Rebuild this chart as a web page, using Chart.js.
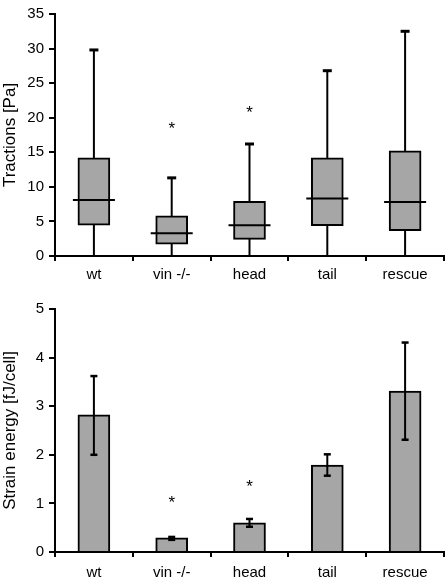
<!DOCTYPE html>
<html>
<head>
<meta charset="utf-8">
<script src="https://cdn.jsdelivr.net/npm/chart.js@4.4.0/dist/chart.umd.min.js"></script>
<style>
  html, body { margin: 0; padding: 0; background: #fff; }
  canvas { display: block; }
</style>
</head>
<body>
<canvas id="tractions" width="448" height="290"></canvas>
<canvas id="energy" width="448" height="288"></canvas>
<script>
// groups on the x axis
const groups = ['wt', 'vin -/-', 'head', 'tail', 'rescue'];

// tractions [Pa], box plot parts
const whiskerLow = [0, 0, 0, 0, 0];
const quart1 = [4.45, 1.7, 2.4, 4.4, 3.65];
const medians = [8.1, 3.3, 4.45, 8.3, 7.8];
const quart3 = [14.2, 5.8, 7.9, 14.2, 15.2];
const whiskerHigh = [29.8, 11.3, 16.2, 26.8, 32.5];
const tractionStars = [null, 18.7, 21.1, null, null];

// strain energy [fJ/cell], mean with error range
const energyMean = [2.82, 0.29, 0.6, 1.79, 3.31];
const energyLow = [2.0, 0.25, 0.52, 1.57, 2.31];
const energyHigh = [3.62, 0.31, 0.68, 2.01, 4.31];
const energyStars = [null, 1.06, 1.4, null, null];

const ink = '#000';
const fill = '#a6a6a6';
const fontFamily = '"Liberation Sans", Arial, sans-serif';

function hLine(ctx, x0, x1, y, w) {
  ctx.beginPath();
  ctx.lineWidth = w;
  ctx.moveTo(x0, y);
  ctx.lineTo(x1, y);
  ctx.stroke();
}

function vLine(ctx, x, y0, y1, w) {
  ctx.beginPath();
  ctx.lineWidth = w;
  ctx.moveTo(x, y0);
  ctx.lineTo(x, y1);
  ctx.stroke();
}

function drawStars(chart, stars) {
  const { ctx, scales } = chart;
  ctx.save();
  ctx.fillStyle = ink;
  ctx.font = '17px ' + fontFamily;
  ctx.textAlign = 'center';
  ctx.textBaseline = 'middle';
  stars.forEach((v, i) => {
    if (v == null) return;
    ctx.fillText('*', scales.x.getPixelForValue(i), scales.y.getPixelForValue(v) + 3);
  });
  ctx.restore();
}

const boxParts = {
  id: 'boxParts',
  beforeDatasetsDraw(chart) {
    const { ctx, scales } = chart;
    ctx.save();
    ctx.strokeStyle = ink;
    groups.forEach((g, i) => {
      const x = scales.x.getPixelForValue(i);
      vLine(ctx, x, scales.y.getPixelForValue(whiskerLow[i]), scales.y.getPixelForValue(whiskerHigh[i]), 2);
    });
    ctx.restore();
  },
  afterDatasetsDraw(chart) {
    const { ctx, scales } = chart;
    ctx.save();
    ctx.strokeStyle = ink;
    groups.forEach((g, i) => {
      const x = scales.x.getPixelForValue(i);
      hLine(ctx, x - 21, x + 21, scales.y.getPixelForValue(medians[i]), 2);
      hLine(ctx, x - 4.5, x + 4.5, scales.y.getPixelForValue(whiskerHigh[i]), 3);
    });
    ctx.restore();
    drawStars(chart, tractionStars);
  },
};

const errorBars = {
  id: 'errorBars',
  afterDatasetsDraw(chart) {
    const { ctx, scales } = chart;
    ctx.save();
    ctx.strokeStyle = ink;
    groups.forEach((g, i) => {
      const x = scales.x.getPixelForValue(i);
      const yLo = scales.y.getPixelForValue(energyLow[i]);
      const yHi = scales.y.getPixelForValue(energyHigh[i]);
      vLine(ctx, x, yLo, yHi, 2);
      hLine(ctx, x - 3.5, x + 3.5, yLo, 2.5);
      hLine(ctx, x - 3.5, x + 3.5, yHi, 2.5);
    });
    ctx.restore();
    drawStars(chart, energyStars);
  },
};

function axes(yTitle, yMax, step, xHeight, labelPad) {
  return {
    x: {
      offset: true,
      border: { display: true, color: ink, width: 2 },
      grid: { display: true, offset: true, drawOnChartArea: false, drawTicks: true, tickLength: 5, color: ink, lineWidth: 2 },
      ticks: { color: ink, padding: labelPad, font: { family: fontFamily, size: 15 }, maxRotation: 0 },
      afterFit: (scale) => { scale.height = xHeight; },
    },
    y: {
      min: 0,
      max: yMax,
      border: { display: true, color: ink, width: 2 },
      grid: { display: true, drawOnChartArea: false, drawTicks: true, tickLength: 6, color: ink, lineWidth: 2 },
      ticks: { color: ink, stepSize: step, padding: 5, font: { family: fontFamily, size: 15 } },
      title: { display: true, text: yTitle, color: ink, padding: { top: 0, bottom: 0 }, font: { family: fontFamily, size: 17 } },
      afterFit: (scale) => { scale.width = 55; },
    },
  };
}

const common = {
  responsive: false,
  animation: false,
  events: [],
  plugins: { legend: { display: false }, tooltip: { enabled: false } },
};

new Chart(document.getElementById('tractions'), {
  type: 'bar',
  data: {
    labels: groups,
    datasets: [{
      data: groups.map((g, i) => [quart1[i], quart3[i]]),
      backgroundColor: fill,
      borderColor: ink,
      borderWidth: 2,
      borderSkipped: false,
      barThickness: 32,
    }],
  },
  options: {
    ...common,
    layout: { padding: { left: 0, top: 7, right: 4, bottom: 0 } },
    scales: axes('Tractions [Pa]', 35, 5, 34, 5),
  },
  plugins: [boxParts],
});

new Chart(document.getElementById('energy'), {
  type: 'bar',
  data: {
    labels: groups,
    datasets: [{
      data: energyMean,
      backgroundColor: fill,
      borderColor: ink,
      borderWidth: 2,
      borderSkipped: 'bottom',
      barThickness: 32,
    }],
  },
  options: {
    ...common,
    layout: { padding: { left: 0, top: 19, right: 4, bottom: 0 } },
    scales: axes('Strain energy [fJ/cell]', 5, 1, 26, 7),
  },
  plugins: [errorBars],
});
</script>
</body>
</html>
